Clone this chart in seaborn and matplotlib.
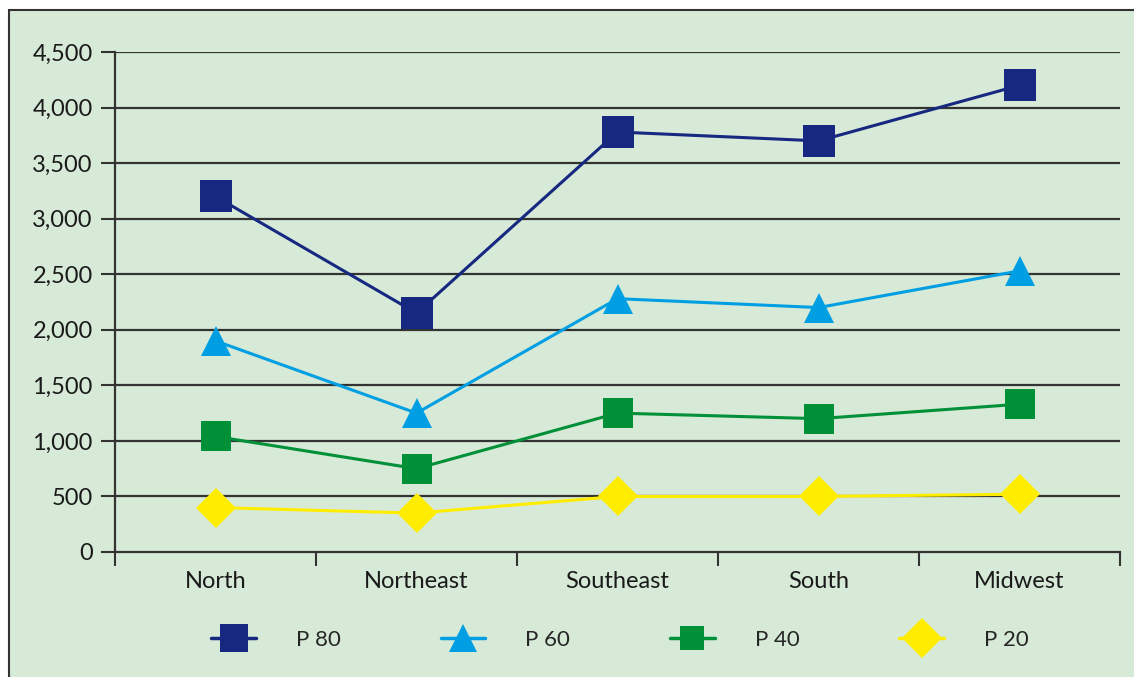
import matplotlib
matplotlib.use("Agg")
import matplotlib.pyplot as plt
from matplotlib.patches import Rectangle
from matplotlib.lines import Line2D
import seaborn as sns
import pandas as pd

regions = ["North", "Northeast", "Southeast", "South", "Midwest"]
p80 = [3200, 2150, 3780, 3700, 4200]
p60 = [1900, 1250, 2280, 2200, 2530]
p40 = [1040, 750, 1250, 1200, 1330]
p20 = [400, 350, 500, 500, 520]
series_names = ["P 80", "P 60", "P 40", "P 20"]
yticks = [0, 500, 1000, 1500, 2000, 2500, 3000, 3500, 4000, 4500]

colors = ["#162880", "#009FE3", "#009038", "#FFED00"]
markers = ["s", "^", "s", "D"]
msizes = [23, 22, 22, 20]
leg_msizes = [20, 20, 17, 20]

sns.set_style("white")
plt.rcParams['font.family'] = ['Lato', 'DejaVu Sans']

fig = plt.figure(figsize=(11.34, 6.77), dpi=100)
fig.patch.set_facecolor("white")
bg = "#D7E9D7"
fig.patches.append(Rectangle((9/1134, -0.01), 1.02, 1 - 10/677 + 0.01,
                             transform=fig.transFigure, facecolor=bg,
                             edgecolor="#333333", linewidth=1.5, zorder=-10))

ax = fig.add_axes([115/1134, 1 - 552/677, (1120 - 115)/1134, 500/677])
ax.set_zorder(1)
ax.patch.set_alpha(0)

rows = []
for name, vals in zip(series_names, [p80, p60, p40, p20]):
    for i, (r, v) in enumerate(zip(regions, vals)):
        rows.append({"series": name, "x": i, "region": r, "value": v})
df = pd.DataFrame(rows)

for name, c, m, ms in zip(series_names, colors, markers, msizes):
    sub = df[df["series"] == name]
    sns.lineplot(data=sub, x="x", y="value", ax=ax, color=c, marker=m,
                 markersize=ms, markeredgewidth=0, linewidth=2.2, zorder=3,
                 legend=False)

ax.set_xlim(-0.5, len(regions) - 0.5)
ax.set_ylim(0, 4500)
ax.set_yticks(yticks)
ax.set_yticklabels([f"{v:,}" for v in yticks])
ax.set_xticks(range(len(regions)))
ax.set_xticklabels(regions)
ax.set_xticks([i - 0.5 for i in range(len(regions) + 1)], minor=True)
ax.tick_params(axis="x", which="major", bottom=True, length=0, pad=14, labelsize=17,
               colors="#1a1a1a")
ax.tick_params(axis="x", which="minor", bottom=True, length=10, width=1.5,
               color="#333333", direction="out")
ax.tick_params(axis="y", which="major", left=True, length=10, width=1.5, color="#333333",
               direction="out", pad=6, labelsize=17, labelcolor="#1a1a1a")
ax.set_xlabel("")
ax.set_ylabel("")

for v in yticks[1:]:
    ax.axhline(v, color="#333333", linewidth=1.6, zorder=1)

for s in ["top", "right"]:
    ax.spines[s].set_visible(False)
for s in ["left", "bottom"]:
    ax.spines[s].set_color("#333333")
    ax.spines[s].set_linewidth(1.6)

handles = [Line2D([0], [0], color=c, marker=m, markersize=ms, markeredgewidth=0,
                  linewidth=2.5) for c, m, ms in zip(colors, markers, leg_msizes)]
leg = fig.legend(handles, series_names, loc="center", bbox_to_anchor=(620/1134, 1 - 640/677),
                 ncol=4, frameon=False, fontsize=16, handlelength=2.0, columnspacing=4.5,
                 handletextpad=1.8)
leg.set_zorder(2)

fig.savefig("out.png", dpi=100, facecolor=fig.get_facecolor())
